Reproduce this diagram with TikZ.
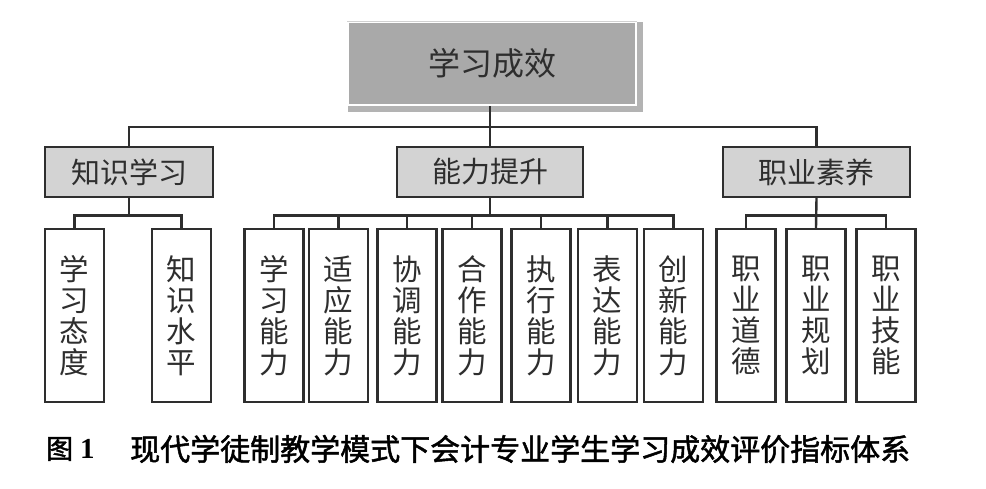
\documentclass[tikz,border=0pt]{standalone}
\usepackage{fontspec}
\setmainfont{Liberation Serif}
\newfontfamily\cjk{Noto Sans CJK SC}
\newfontfamily\cjkcap[FakeBold=1.6]{Noto Sans CJK SC}
\usetikzlibrary{calc}
\definecolor{ink}{HTML}{2E2E2E}
\definecolor{topfill}{HTML}{A9A9A9}
\definecolor{topshadow}{HTML}{B3B3B3}
\definecolor{midfill}{HTML}{D3D3D3}
\tikzset{
  line/.style={draw=ink, line width=2.4pt},
  topbox/.style={fill=topfill, draw=white, line width=1.6pt, minimum width=288pt, minimum height=83pt, inner sep=0pt, font=\cjk\fontsize{32}{32}\selectfont, text=ink},
  midbox/.style={fill=midfill, draw=ink, line width=2.4pt, minimum width=#1, minimum height=50pt, inner sep=0pt, font=\cjk\fontsize{29}{29}\selectfont, text=ink},
  leaf/.style={draw=ink, fill=white, line width=2.4pt, minimum width=59pt, minimum height=173pt, inner sep=0pt, align=center, font=\cjk\fontsize{29.5}{31}\selectfont, text=ink},
}
\begin{document}
\begin{tikzpicture}[x=1pt,y=-1pt]
\useasboundingbox (0,0) rectangle (986,488);
% top
\fill[topshadow] (348,22) rectangle (643,112);
\node[topbox] (top) at (492,63.5) {学习成效};
\draw[topshadow!60, line width=0.6pt] (top.north west) -- (top.north east);
% level 2
\node[midbox=168pt] (k) at (129,172) {知识学习};
\node[midbox=186pt] (a) at (490,172) {能力提升};
\node[midbox=187pt] (p) at (816.5,172) {职业素养};
\coordinate (bar) at (0,127);
\coordinate (sbar) at (0,215.5);
\draw[line] (a.north) -- (a.north |- top.south);
\draw[line] (k.north) |- (bar -| p.north) -- (p.north);
% leaves
\foreach \n/\x/\t in {k1/74.5/学\\习\\态\\度, k2/181.5/知\\识\\水\\平,
  a1/274/学\\习\\能\\力, a2/338.5/适\\应\\能\\力, a3/407/协\\调\\能\\力,
  a4/472/合\\作\\能\\力, a5/541/执\\行\\能\\力, a6/607.5/表\\达\\能\\力,
  a7/673.5/创\\新\\能\\力,
  p1/746/职\\业\\道\\德, p2/816/职\\业\\规\\划, p3/886/职\\业\\技\\能}
  \node[leaf] (\n) at (\x,315.5) {\t};
% knowledge connectors
\draw[line] (k.south) -- (k.south |- sbar);
\draw[line] (k1.north) |- (k2.north |- sbar) -- (k2.north);
% ability connectors
\draw[line] (a.south) -- (a.south |- sbar);
\draw[line] (a1.north) |- (a7.north |- sbar) -- (a7.north);
\foreach \n in {a2,a3,a4,a5,a6}
  \draw[line] (\n.north) -- (\n.north |- sbar);
% professional connectors
\draw[line] (p.south) -- (p2.north);
\draw[line] (p1.north) |- (p3.north |- sbar) -- (p3.north);
% caption
\node[anchor=west, inner sep=0pt, text=black] (cap) at (46,449)
  {{\cjkcap\fontsize{27}{27}\selectfont 图}\hspace{7pt}{\bfseries\fontsize{29}{29}\selectfont 1}};
\node[anchor=west, inner sep=0pt, text=black, font=\cjkcap\fontsize{30}{30}\selectfont] (capt) at (130,449)
  {现代学徒制教学模式下会计专业学生学习成效评价指标体系};
\end{tikzpicture}
\end{document}
